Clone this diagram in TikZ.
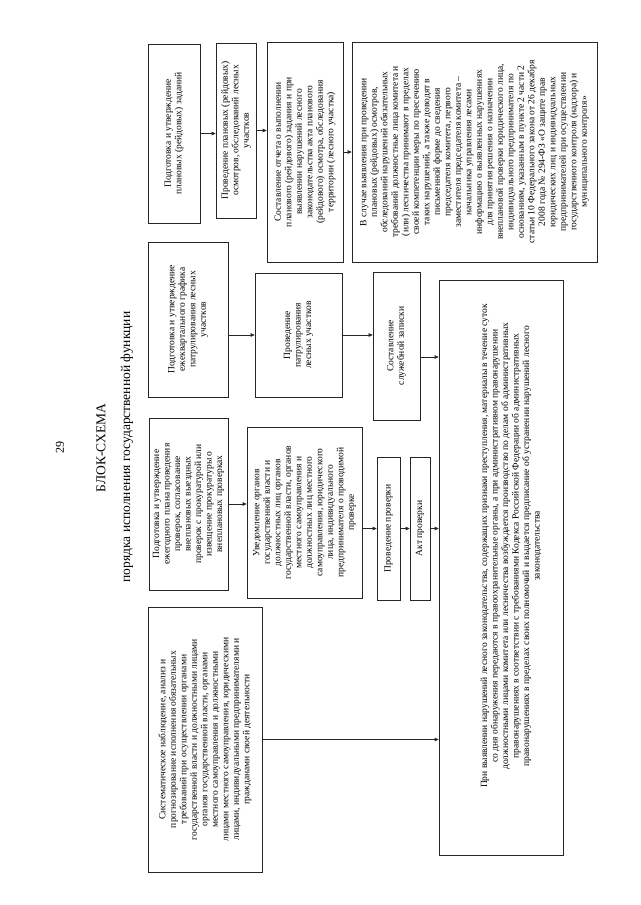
\documentclass[tikz,border=0pt]{standalone}
\usepackage{fontspec}
\setmainfont{Liberation Serif}
\usetikzlibrary{arrows.meta, calc}

\tikzset{
  blk/.style={draw=black!85, line width=0.6pt, rotate=90, align=center,
    inner sep=2pt, font=\fontsize{9.5}{10.5}\selectfont},
  arr/.style={draw=black!85, line width=0.6pt, -{Triangle[length=4pt,width=3.5pt]}}
}

\begin{document}
\begin{tikzpicture}[x=1pt, y=-1pt]
\useasboundingbox (0,0) rectangle (640,905);

% titles
\node[rotate=90, font=\fontsize{12}{14}\selectfont] (page) at (60,447) {29};
\node[rotate=90, font=\fontsize{13.5}{16}\selectfont] (title) at (101,448) {БЛОК-СХЕМА};
\node[rotate=90, font=\fontsize{13.5}{16}\selectfont] (subtitle) at (127,447) {порядка исполнения государственной функции};

% upper row
\node[blk, minimum width=179pt, minimum height=52pt] (zadan) at (174,133.5)
  {Подготовка и утверждение\\плановых (рейдовых) заданий};
\node[blk, minimum width=175pt, minimum height=40pt] (osmotr) at (236,130.5)
  {Проведение плановых (рейдовых)\\осмотров, обследований лесных\\участков};
\node[blk, minimum width=220pt, minimum height=76pt] (otchet) at (305,152)
  {Составление отчета о выполнении\\планового (рейдового) задания и при\\выявлении нарушений лесного\\законодательства акта планового\\(рейдового) осмотра, обследования\\территории (лесного участка)};
\node[blk, minimum width=220pt, minimum height=245pt] (mery) at (474.5,152)
  {В случае выявления при проведении\\плановых (рейдовых) осмотров,\\обследований нарушений обязательных\\требований должностные лица комитета и\\(или) лесничества принимают в пределах\\своей компетенции меры по пресечению\\таких нарушений, а также доводят в\\письменной форме до сведения\\председателя комитета, первого\\заместителя председателя комитета --\\начальника управления лесами\\информацию о выявленных нарушениях\\для принятия решения о назначении\\внеплановой проверки юридического лица,\\индивидуального предпринимателя по\\основаниям, указанным в пункте 2 части 2\\статьи 10 Федерального закона от 26 декабря\\2008 года № 294-ФЗ «О защите прав\\юридических лиц и индивидуальных\\предпринимателей при осуществлении\\государственного контроля (надзора) и\\муниципального контроля»};

% middle row
\node[blk, minimum width=155pt, minimum height=80pt] (grafik) at (188,319.5)
  {Подготовка и утверждение\\ежеквартального графика\\патрулирования лесных\\участков};
\node[blk, minimum width=124pt, minimum height=87pt] (patrul) at (298.5,335)
  {Проведение\\патрулирования\\лесных участков};
\node[blk, minimum width=148pt, minimum height=47pt] (zapiska) at (396.5,346)
  {Составление\\служебной записки};

% lower row
\node[blk, minimum width=172pt, minimum height=79pt] (plan) at (188.5,504)
  {Подготовка и утверждение\\ежегодного плана проведения\\проверок, согласование\\внеплановых выездных\\проверок с прокуратурой или\\извещение прокуратуры о\\внеплановых проверках};
\node[blk, minimum width=171pt, minimum height=115pt] (uved) at (304.5,512.5)
  {Уведомление органов\\государственной власти и\\должностных лиц органов\\государственной власти, органов\\местного самоуправления и\\должностных лиц местного\\самоуправления, юридического\\лица, индивидуального\\предпринимателя о проводимой\\проверке};
\node[blk, minimum width=143pt, minimum height=23pt] (prov) at (388.5,528.5) {Проведение проверки};
\node[blk, minimum width=143pt, minimum height=20pt] (akt) at (420,528.5) {Акт проверки};

\node[blk, minimum width=265pt, minimum height=114pt] (nabl) at (205,739.5)
  {Систематическое наблюдение, анализ и\\прогнозирование исполнения обязательных\\требований при осуществлении органами\\государственной власти и должностными лицами\\органов государственной власти, органами\\местного самоуправления и должностными\\лицами местного самоуправления, юридическими\\лицами, индивидуальными предпринимателями и\\гражданами своей деятельности};

% final box
\node[blk, minimum width=575pt, minimum height=124pt] (narush) at (501,567.5) {};
\node[rotate=90, align=center, inner sep=0pt, font=\fontsize{9.5}{10.5}\selectfont] (narushtxt) at (511,546)
  {При выявлении нарушений лесного законодательства, содержащих признаки преступления, материалы в течение суток\\со дня обнаружения передаются в правоохранительные органы, а при административном правонарушении\\должностными лицами комитета или лесничества возбуждается производство по делам об административных\\правонарушениях в соответствии с требованиями Кодекса Российской Федерации об административных\\правонарушениях в пределах своих полномочий и выдается предписание об устранении нарушений лесного\\законодательства};

% connectors
\draw[arr] (zadan) -- (zadan -| osmotr.north);
\draw[arr] (osmotr) -- (osmotr -| otchet.north);
\draw[arr] (otchet) -- (otchet -| mery.north);
\draw[arr] (patrul -| grafik.south) -- (patrul);
\draw[arr] (patrul) -- (patrul -| zapiska.north);
\coordinate (zapout) at ($(zapiska.south)+(0,11)$);
\draw[arr] (zapout) -- (zapout -| narush.north);
\draw[arr] (plan) -- (plan -| uved.north);
\draw[arr] (prov -| uved.south) -- (prov);
\draw[arr] (prov) -- (akt);
\draw[arr] (akt) -- (akt -| narush.north);
\draw[arr] (nabl) -- (nabl -| narush.north);
\end{tikzpicture}
\end{document}
